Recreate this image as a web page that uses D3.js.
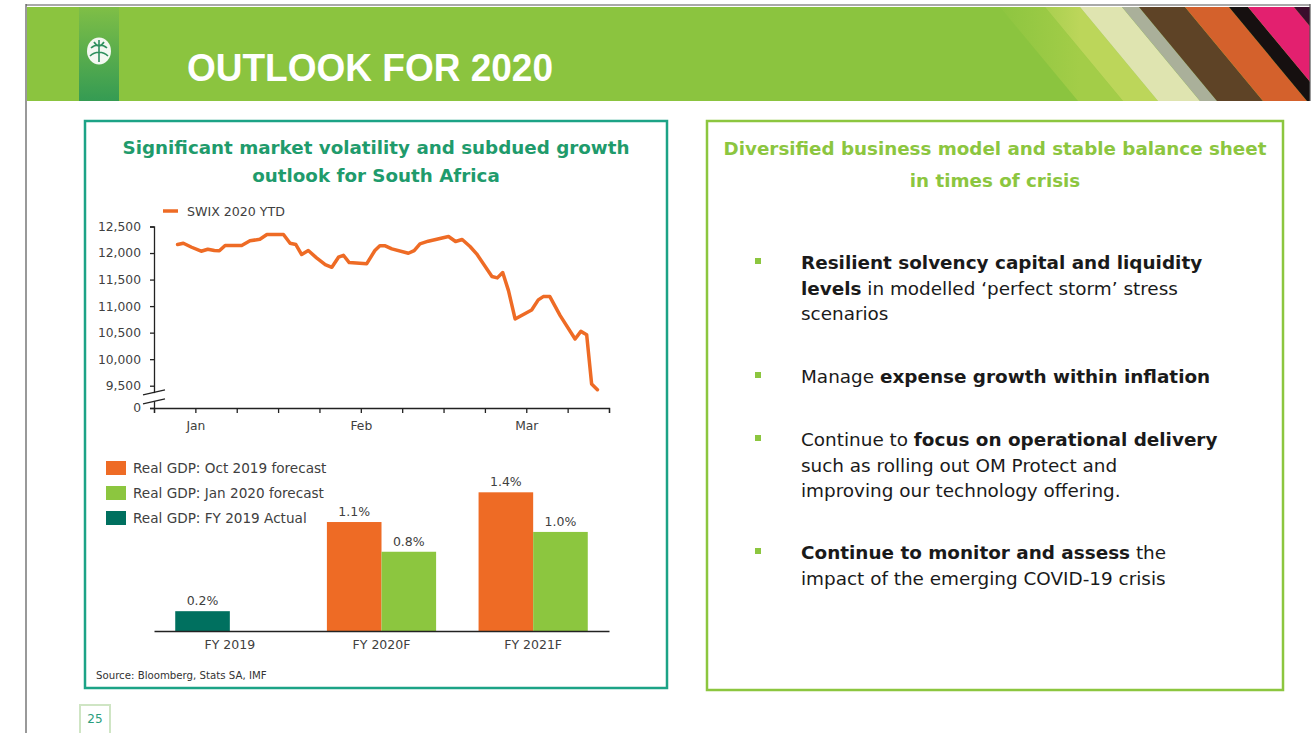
<!DOCTYPE html>
<html>
<head>
<meta charset="utf-8">
<script src="https://cdn.jsdelivr.net/npm/d3@7"></script>
<style>
  body { margin: 0; background: #fff; }
  svg text { font-family: "DejaVu Sans", sans-serif; }
</style>
</head>
<body>
<svg id="slide" width="1316" height="733"></svg>
<script>
// ---------- data ----------
// SWIX 2020 YTD, x in axis-tick units (0..11), value in index points
const swixX = [0.57, 0.71, 0.91, 1.14, 1.30, 1.46, 1.58, 1.72, 2.12, 2.32, 2.56, 2.73, 3.13, 3.29, 3.43,
  3.57, 3.73, 3.93, 4.14, 4.30, 4.46, 4.58, 4.72, 5.14, 5.34, 5.46, 5.59, 5.75, 6.15, 6.29, 6.43,
  6.63, 7.12, 7.29, 7.45, 7.64, 7.80, 8.17, 8.30, 8.43, 8.57, 8.73, 9.13, 9.29, 9.41, 9.57, 9.82,
  10.18, 10.32, 10.46, 10.58, 10.72];
const swixV = [12160, 12185, 12109, 12034, 12072, 12047, 12042, 12142, 12142, 12230, 12260, 12349, 12349, 12185, 12160,
  11972, 12047, 11909, 11783, 11732, 11921, 11958, 11821, 11796, 12047, 12136, 12136, 12079, 11996, 12047, 12174,
  12223, 12311, 12217, 12255, 12123, 11985, 11557, 11532, 11632, 11292, 10758, 10928, 11117, 11179, 11179, 10821,
  10381, 10524, 10462, 9532, 9424];
const yTickValues = [9500, 10000, 10500, 11000, 11500, 12000, 12500];
const yBreakValue = 9080;          // shown as "0" below the axis break
const xTickCount = 11;
const monthLabels = ["Jan", "Feb", "Mar"];
const monthTicks = [1, 5, 9];

const gdpCategories = ["FY 2019", "FY 2020F", "FY 2021F"];
const gdpOct2019 = [null, 1.1, 1.4];
const gdpJan2020 = [null, 0.8, 1.0];
const gdpActual2019 = [0.2, null, null];
const gdpLegend = ["Real GDP: Oct 2019 forecast", "Real GDP: Jan 2020 forecast", "Real GDP: FY 2019 Actual"];

const bullets = [
  [[["Resilient solvency capital and liquidity", true]],
   [["levels", true], [" in modelled \u2018perfect storm\u2019 stress", false]],
   [["scenarios", false]]],
  [[["Manage ", false], ["expense growth within inflation", true]]],
  [[["Continue to ", false], ["focus on operational delivery", true]],
   [["such as rolling out OM Protect and", false]],
   [["improving our technology offering.", false]]],
  [[["Continue to monitor and assess", true], [" the", false]],
   [["impact of the emerging COVID-19 crisis", false]]]
];

// colours
const orange = "#ee6b25", lime = "#8cc63f", teal = "#00705f";
const headerGreen = "#8bc43f", boxTeal = "#1ca386", axisGrey = "#404040";

const svg = d3.select("#slide");
svg.append("rect").attr("width", 1316).attr("height", 733).attr("fill", "#fff");

// ---------- header band ----------
const defs = svg.append("defs");
defs.append("clipPath").attr("id", "hdrClip")
  .append("rect").attr("x", 27).attr("y", 7).attr("width", 1283).attr("height", 94);

const logoGrad = defs.append("linearGradient").attr("id", "logoGrad")
  .attr("x1", 0).attr("y1", 0).attr("x2", 0).attr("y2", 1);
logoGrad.append("stop").attr("offset", "0%").attr("stop-color", "#7cbd48");
logoGrad.append("stop").attr("offset", "100%").attr("stop-color", "#1f9158");

const fadeGrad = defs.append("linearGradient").attr("id", "fadeGrad")
  .attr("x1", 0).attr("y1", 0).attr("x2", 1).attr("y2", 0);
fadeGrad.append("stop").attr("offset", "0%").attr("stop-color", headerGreen).attr("stop-opacity", 1);
fadeGrad.append("stop").attr("offset", "100%").attr("stop-color", headerGreen).attr("stop-opacity", 0);

const hdr = svg.append("g").attr("clip-path", "url(#hdrClip)");
hdr.append("rect").attr("x", 27).attr("y", 7).attr("width", 1283).attr("height", 94).attr("fill", headerGreen);

// diagonal colour stripes on the right of the band
const stripes = [
  {x: 1000, w: 45, c: "#a3cd48"},
  {x: 1045, w: 35, c: "#bcd65a"},
  {x: 1080, w: 42, c: "#dfe4b0"},
  {x: 1122, w: 17, c: "#aab09a"},
  {x: 1139, w: 46, c: "#5e4326"},
  {x: 1185, w: 44, c: "#d4612c"},
  {x: 1229, w: 19, c: "#161010"},
  {x: 1248, w: 46, c: "#e3206f"},
  {x: 1294, w: 30, c: "#3a0d2c"}
];
const slant = 78;
hdr.selectAll("polygon.stripe").data(stripes).join("polygon")
  .attr("class", "stripe")
  .attr("points", d => [[d.x, 7], [d.x + d.w, 7], [d.x + d.w + slant, 101], [d.x + slant, 101]].join(" "))
  .attr("fill", d => d.c);
hdr.append("rect").attr("x", 990).attr("y", 7).attr("width", 90).attr("height", 94).attr("fill", "url(#fadeGrad)");

// logo column and emblem
hdr.append("rect").attr("x", 79).attr("y", 7).attr("width", 40).attr("height", 94)
  .attr("fill", "url(#logoGrad)").attr("opacity", 0.8);
const logo = svg.append("g").attr("transform", "translate(99,51)");
logo.append("ellipse").attr("rx", 12).attr("ry", 13.5).attr("fill", "#f4f8f2");
logo.append("path").attr("d", "M0,-11V11 M-8,-3C-4,-7 4,-7 8,-3 M-9,5C-4,0 4,0 9,5 M-5,-9C-2,-4 2,-4 5,-9")
  .attr("fill", "none").attr("stroke", "#2f8f5e").attr("stroke-width", 1.6);

svg.append("text").attr("x", 187).attr("y", 81)
  .attr("fill", "#fff").attr("font-size", 39).attr("font-weight", "bold")
  .style("font-family", "'Liberation Sans', Arial, sans-serif")
  .attr("textLength", 366).attr("lengthAdjust", "spacingAndGlyphs")
  .text("OUTLOOK FOR 2020");

// slide frame lines
svg.append("line").attr("x1", 26).attr("x2", 26).attr("y1", 4).attr("y2", 733).attr("stroke", "#555").attr("stroke-width", 1.2);
svg.append("line").attr("x1", 26).attr("x2", 1310).attr("y1", 5).attr("y2", 5).attr("stroke", "#555").attr("stroke-width", 1.2);
svg.append("line").attr("x1", 1310).attr("x2", 1310).attr("y1", 4).attr("y2", 101).attr("stroke", "#555").attr("stroke-width", 1.2);

// ---------- panels ----------
svg.append("rect").attr("x", 85).attr("y", 121).attr("width", 582).attr("height", 567)
  .attr("fill", "none").attr("stroke", boxTeal).attr("stroke-width", 2.5);
svg.append("rect").attr("x", 707).attr("y", 121).attr("width", 576).attr("height", 569)
  .attr("fill", "none").attr("stroke", lime).attr("stroke-width", 2.5);

svg.selectAll("text.ltitle")
  .data(["Significant market volatility and subdued growth", "outlook for South Africa"])
  .join("text").attr("class", "ltitle")
  .attr("x", 376).attr("y", (d, i) => 154 + i * 28)
  .attr("text-anchor", "middle").attr("font-size", 18.3).attr("font-weight", "bold")
  .attr("fill", "#1f9b6c").text(d => d);

svg.selectAll("text.rtitle")
  .data(["Diversified business model and stable balance sheet", "in times of crisis"])
  .join("text").attr("class", "rtitle")
  .attr("x", 995).attr("y", (d, i) => 155 + i * 32)
  .attr("text-anchor", "middle").attr("font-size", 18.3).attr("font-weight", "bold")
  .attr("fill", lime).text(d => d);

// ---------- SWIX line chart ----------
const xScale = d3.scaleLinear().domain([0, xTickCount]).range([154, 609]);
const yScale = d3.scaleLinear().domain([yBreakValue, 12500]).range([408, 226.5]);

const yAxis = d3.axisLeft(yScale)
  .tickValues([yBreakValue].concat(yTickValues))
  .tickFormat(d => d === yBreakValue ? "0" : d3.format(",")(d))
  .tickSize(4).tickPadding(9);
const xAxis = d3.axisBottom(xScale)
  .tickValues(d3.range(0, xTickCount + 1))
  .tickFormat(d => {
    const k = monthTicks.indexOf(d);
    return k >= 0 ? monthLabels[k] : "";
  })
  .tickSize(5).tickPadding(8);

const gY = svg.append("g").attr("transform", "translate(" + xScale(0) + ",0)").call(yAxis);
const gX = svg.append("g").attr("transform", "translate(0," + yScale(yBreakValue) + ")").call(xAxis);
[gX, gY].forEach(g => {
  g.selectAll("path, line").attr("stroke", "#222").attr("stroke-width", 1.3);
  g.selectAll("text").attr("fill", axisGrey).attr("font-size", 12.3);
});

// axis break marks between 0 and 9,500
const brk = (yScale(yBreakValue) + yScale(yTickValues[0])) / 2;
const ax0 = xScale(0);
svg.append("polygon")
  .attr("points", [[ax0 - 6, brk - 2], [ax0 + 6, brk - 5], [ax0 + 6, brk + 3], [ax0 - 6, brk + 6]].join(" "))
  .attr("fill", "#fff");
[-4.5, 4.5].forEach(o => {
  svg.append("line")
    .attr("x1", ax0 - 11).attr("y1", brk + o + 2.5)
    .attr("x2", ax0 + 11).attr("y2", brk + o - 2.5)
    .attr("stroke", "#222").attr("stroke-width", 1.3);
});

const swix = d3.zip(swixX, swixV);
const swixLine = d3.line().x(d => xScale(d[0])).y(d => yScale(d[1]));
svg.append("path").datum(swix)
  .attr("d", swixLine)
  .attr("fill", "none").attr("stroke", orange).attr("stroke-width", 3.5)
  .attr("stroke-linejoin", "round").attr("stroke-linecap", "round");

// line legend
svg.append("line").attr("x1", 163).attr("x2", 178).attr("y1", 211).attr("y2", 211)
  .attr("stroke", orange).attr("stroke-width", 3.5);
svg.append("text").attr("x", 187).attr("y", 215.5).attr("font-size", 12.6)
  .attr("fill", axisGrey).text("SWIX 2020 YTD");

// ---------- GDP bar chart ----------
const xBand = d3.scaleBand().domain(gdpCategories).range([154, 609]).paddingInner(0.28).paddingOuter(0.14);
const xSlot = d3.scaleBand().domain([0, 1]).range([0, xBand.bandwidth()]);
const yBar = d3.scaleLinear().domain([0, 1.5]).range([631, 482.4]);

const barSeries = [
  {name: gdpLegend[0], values: gdpOct2019, color: orange, slot: 0},
  {name: gdpLegend[1], values: gdpJan2020, color: lime, slot: 1},
  {name: gdpLegend[2], values: gdpActual2019, color: teal, slot: 0}
];
const bars = [];
barSeries.forEach(s => s.values.forEach((v, i) => {
  if (v != null) bars.push({cat: gdpCategories[i], v: v, color: s.color, slot: s.slot});
}));

svg.selectAll("rect.bar").data(bars).join("rect").attr("class", "bar")
  .attr("x", d => xBand(d.cat) + xSlot(d.slot))
  .attr("width", xSlot.bandwidth())
  .attr("y", d => yBar(d.v))
  .attr("height", d => yBar(0) - yBar(d.v))
  .attr("fill", d => d.color);

svg.selectAll("text.barlbl").data(bars).join("text").attr("class", "barlbl")
  .attr("x", d => xBand(d.cat) + xSlot(d.slot) + xSlot.bandwidth() / 2)
  .attr("y", d => yBar(d.v) - 6)
  .attr("text-anchor", "middle").attr("font-size", 12.5).attr("fill", axisGrey)
  .text(d => d3.format(".1f")(d.v) + "%");

const barAxis = d3.axisBottom(xBand).tickSize(0).tickPadding(9);
const gB = svg.append("g").attr("transform", "translate(0," + yBar(0) + ")").call(barAxis);
gB.select("path").attr("stroke", "#222").attr("stroke-width", 1.5);
gB.selectAll("text").attr("fill", axisGrey).attr("font-size", 12.5);

// bar legend
const leg = svg.selectAll("g.leg").data(gdpLegend).join("g").attr("class", "leg")
  .attr("transform", (d, i) => "translate(106," + (468 + i * 25) + ")");
leg.append("rect").attr("x", 0).attr("y", -7).attr("width", 20).attr("height", 14)
  .attr("fill", (d, i) => [orange, lime, teal][i]);
leg.append("text").attr("x", 27).attr("y", 5).attr("font-size", 13.6).attr("fill", axisGrey).text(d => d);

svg.append("text").attr("x", 96).attr("y", 679).attr("font-size", 10.2).attr("fill", "#333")
  .text("Source: Bloomberg, Stats SA, IMF");

// ---------- bullet list ----------
const bulletTop = [262, 376, 439, 552];
const lineH = 25.5;
bullets.forEach((lines, b) => {
  svg.append("rect").attr("x", 755).attr("y", bulletTop[b] - 4).attr("width", 6).attr("height", 6).attr("fill", lime);
  lines.forEach((segs, j) => {
    const t = svg.append("text").attr("x", 801).attr("y", bulletTop[b] + 7 + j * lineH)
      .attr("font-size", 18.4).attr("fill", "#1a1a1a").style("white-space", "pre");
    segs.forEach(s => t.append("tspan").attr("font-weight", s[1] ? "bold" : "normal").text(s[0]));
  });
});

// ---------- page number ----------
svg.append("rect").attr("x", 80).attr("y", 705).attr("width", 30).attr("height", 32)
  .attr("fill", "#fff").attr("stroke", "#cfe5c4").attr("stroke-width", 2);
svg.append("text").attr("x", 95).attr("y", 723).attr("text-anchor", "middle")
  .attr("font-size", 12).attr("fill", "#2a9d7c").text("25");
</script>
</body>
</html>
